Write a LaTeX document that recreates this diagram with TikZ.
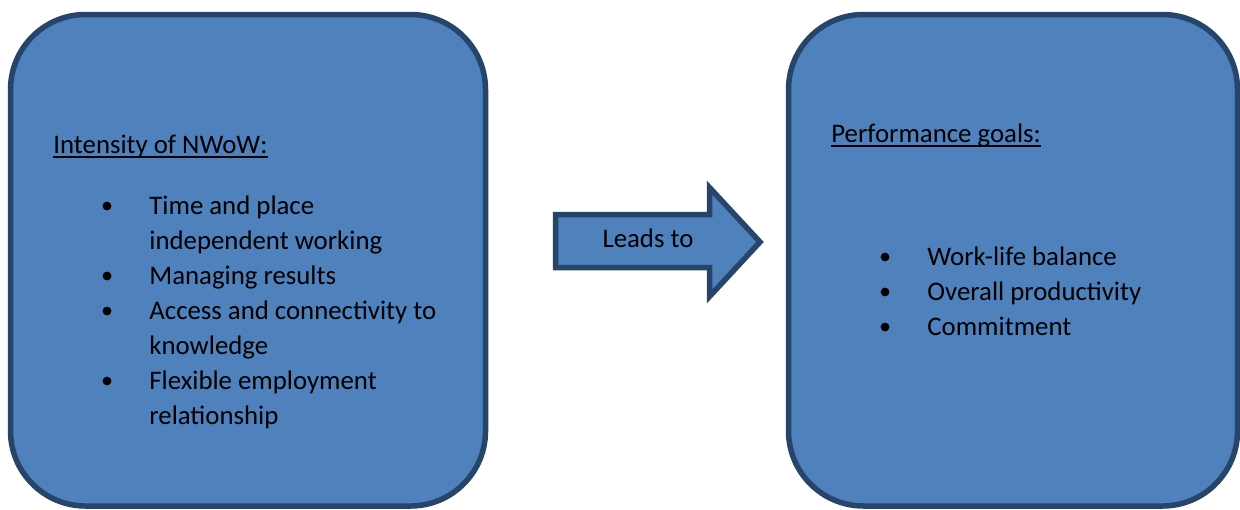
\documentclass[tikz,border=0pt]{standalone}
\usepackage{fontspec}
\setmainfont{Carlito}
\definecolor{boxfill}{HTML}{4F81BD}
\definecolor{boxline}{HTML}{27446A}
\begin{document}
\begin{tikzpicture}[x=0.5pt,y=-0.5pt,
  box/.style={draw=boxline,fill=boxfill,line width=2.75pt,rounded corners=37.5pt,
    minimum width=#1,minimum height=245.75pt,inner sep=0pt},
  txt/.style={inner sep=0pt,anchor=base west,font=\fontsize{13.4}{17.5}\selectfont},
  bul/.style={fill=black,circle,inner sep=0pt,minimum size=4.4pt},
  uline/.style={line width=0.8pt}]
\useasboundingbox (0,0) rectangle (1240,509);
% boxes
\node[box=237.5pt] (L) at (248,260.25) {};
\node[box=224.5pt] (R) at (1013,260.25) {};
% arrow
\draw[draw=boxline,fill=boxfill,line width=2.75pt,line join=miter]
  (555.5,214.5) -- (709.5,214.5) -- (709.5,187.5) -- (760,242) -- (709.5,296.5)
  -- (709.5,267.5) -- (555.5,267.5) -- cycle;
\node[txt,anchor=base] (lead) at (648,247) {Leads to};
% left text
\node[txt] (t1) at (53,153) {Intensity of NWoW:};
\draw[uline] ([yshift=-1.9pt]t1.base west) -- ([yshift=-1.9pt]t1.base east);
\node[txt] (a1) at (149,214) {Time and place};
\node[txt] (a2) at (149,249) {independent working};
\node[txt] (a3) at (149,284) {Managing results};
\node[txt] (a4) at (149,319) {Access and connectivity to};
\node[txt] (a5) at (149,354) {knowledge};
\node[txt] (a6) at (149,389) {Flexible employment};
\node[txt] (a7) at (149,424) {relationship};
\node[bul] (b1) at (107,206) {};
\node[bul] (b2) at (107,276) {};
\node[bul] (b3) at (107,311) {};
\node[bul] (b4) at (107,381) {};
% right text
\node[txt] (t2) at (831,142) {Performance goals:};
\draw[uline] ([yshift=-1.9pt]t2.base west) -- ([yshift=-1.9pt]t2.base east);
\node[txt] (c1) at (927,265) {Work-life balance};
\node[txt] (c2) at (927,300) {Overall productivity};
\node[txt] (c3) at (927,335) {Commitment};
\node[bul] (d1) at (885,257) {};
\node[bul] (d2) at (885,292) {};
\node[bul] (d3) at (885,327) {};
\end{tikzpicture}
\end{document}
